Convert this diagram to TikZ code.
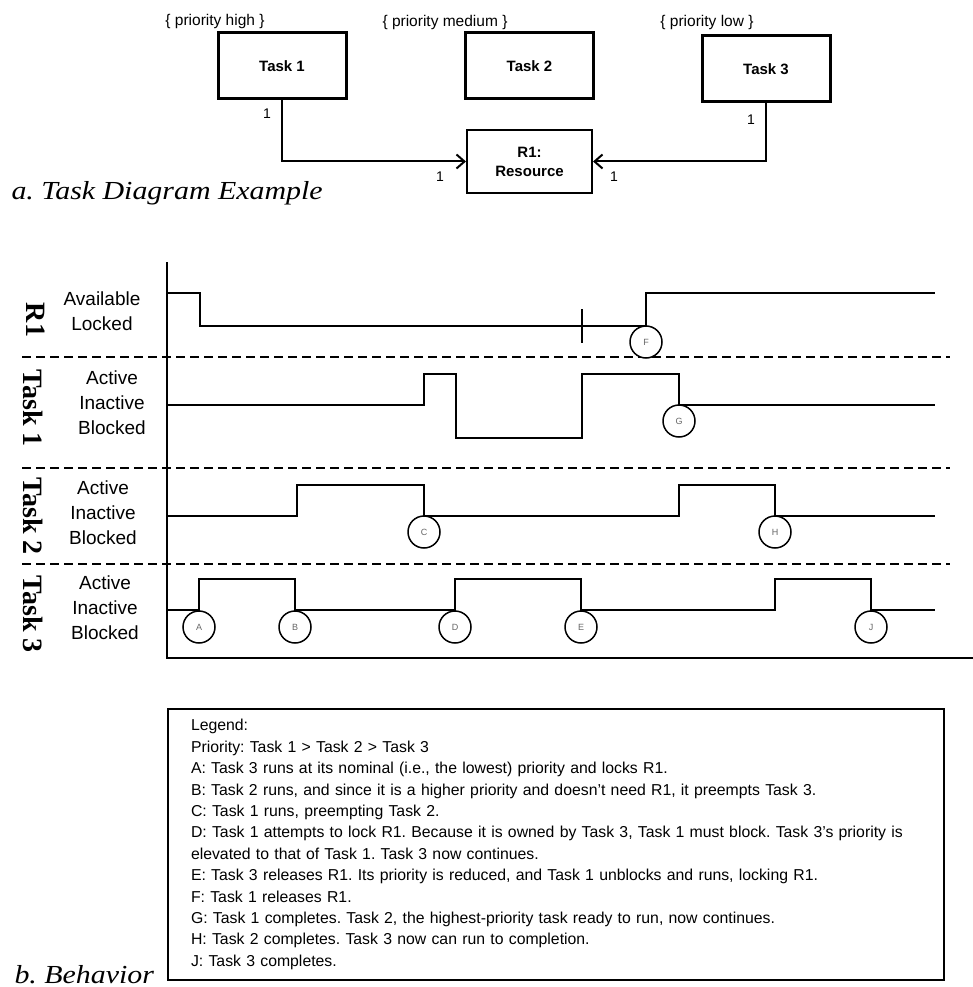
\documentclass[tikz,border=0pt]{standalone}
\usepackage{fontspec}
\setmainfont{Liberation Sans}
\newfontfamily\namefont{Liberation Serif}
\newfontfamily\capfont[FakeStretch=1.15]{Liberation Serif}
\usetikzlibrary{arrows.meta, positioning, calc}
\frenchspacing

\begin{document}
\begin{tikzpicture}[
  x=1pt, y=-1pt,
  >={Straight Barb[length=8pt,width=14pt]},
  taskbox/.style={rectangle, draw, line width=3pt, minimum width=128pt, minimum height=66pt, font=\fontsize{15}{18}\selectfont\bfseries},
  resbox/.style={rectangle, draw, line width=2pt, minimum width=125pt, minimum height=63pt, align=center, font=\fontsize{15}{19}\selectfont\bfseries},
  prio/.style={font=\fontsize{15.5}{17}\selectfont},
  mult/.style={font=\fontsize{14}{16}\selectfont},
  link/.style={line width=2pt, ->},
  caption/.style={anchor=base west, font=\capfont\itshape\fontsize{26}{28}\selectfont},
  rowname/.style={rotate=-90, font=\namefont\bfseries\fontsize{28}{30}\selectfont},
  states/.style={align=center, font=\fontsize{19}{25}\selectfont},
  wave/.style={line width=2pt},
  sep/.style={line width=2pt, dash pattern=on 9pt off 5pt},
  evt/.style={circle, draw, line width=1.5pt, fill=white, minimum size=32pt, inner sep=0pt, font=\fontsize{9}{9}\selectfont, text=black!60},
  legendbox/.style={rectangle, draw, line width=2pt, text width=730pt, inner xsep=23pt, minimum height=271pt, align=left, font=\fontsize{15.8}{21.4}\selectfont}
]
\useasboundingbox (0,0) rectangle (973,987);

% a. Task diagram
\node[taskbox] (task1) at (282,66) {Task 1};
\node[taskbox] (task2) at (529.5,66) {Task 2};
\node[taskbox] (task3) at (766,69) {Task 3};
\node[resbox] (res) at (529.5,161.5) {R1:\\Resource};

\node[prio] (prio1) at (215,21) {\{ priority high \}};
\node[prio] (prio2) at (445,22) {\{ priority medium \}};
\node[prio] (prio3) at (707,22) {\{ priority low \}};

\draw[link] (task1.south) |- (res.west);
\draw[link] (task3.south) |- (res.east);

\node[mult] (m1) at ($(task1.south)+(-15,13)$) {1};
\node[mult] (m2) at ($(res.west)+(-26,15)$) {1};
\node[mult] (m3) at ($(task3.south)+(-15,16)$) {1};
\node[mult] (m4) at ($(res.east)+(21,15)$) {1};

\node[caption] (capa) at (8,200) {a. Task Diagram Example};

% b. Behavior - axes and row separators
\draw[wave] (167,262) -- (167,658) -- (973,658);
\draw[sep] (22,357) -- (950,357);
\draw[sep] (22,468) -- (950,468);
\draw[sep] (22,564) -- (950,564);

% row names and states
\node[rowname] (nR1) at (36,320) {R1};
\node[rowname] (nT1) at (33,408) {Task 1};
\node[rowname] (nT2) at (33,516) {Task 2};
\node[rowname] (nT3) at (33,614) {Task 3};

\node[states] (sR1) at (102,311) {Available\\Locked};
\node[states] (sT1) at (112,403) {Active\\Inactive\\Blocked};
\node[states] (sT2) at (103,513) {Active\\Inactive\\Blocked};
\node[states] (sT3) at (105,608) {Active\\Inactive\\Blocked};

% waveforms
\draw[wave] (167,293) -- (200,293) -- (200,326) -- (646,326) -- (646,293) -- (935,293);
\draw[wave] (582,309) -- (582,343);
\draw[wave] (167,405) -- (424,405) -- (424,374) -- (456,374) -- (456,438) -- (582,438) -- (582,374) -- (679,374) -- (679,405) -- (935,405);
\draw[wave] (167,516) -- (297,516) -- (297,485) -- (424,485) -- (424,516) -- (679,516) -- (679,485) -- (775,485) -- (775,516) -- (935,516);
\draw[wave] (167,610) -- (199,610) -- (199,579) -- (295,579) -- (295,610) -- (455,610) -- (455,579) -- (581,579) -- (581,610) -- (775,610) -- (775,579) -- (871,579) -- (871,610) -- (935,610);

% events
\node[evt] (evF) at (646,342) {F};
\node[evt] (evG) at (679,421) {G};
\node[evt] (evC) at (424,532) {C};
\node[evt] (evH) at (775,532) {H};
\node[evt] (evA) at (199,627) {A};
\node[evt] (evB) at (295,627) {B};
\node[evt] (evD) at (455,627) {D};
\node[evt] (evE) at (581,627) {E};
\node[evt] (evJ) at (871,627) {J};

% legend
\node[legendbox, anchor=north west] (legend) at (167,708) {Legend:\\
Priority: Task 1 > Task 2 > Task 3\\
A: Task 3 runs at its nominal (i.e., the lowest) priority and locks R1.\\
B: Task 2 runs, and since it is a higher priority and doesn't need R1, it preempts Task 3.\\
C: Task 1 runs, preempting Task 2.\\
D: Task 1 attempts to lock R1. Because it is owned by Task 3, Task 1 must block. Task 3's priority is\\
elevated to that of Task 1. Task 3 now continues.\\
E: Task 3 releases R1. Its priority is reduced, and Task 1 unblocks and runs, locking R1.\\
F: Task 1 releases R1.\\
G: Task 1 completes. Task 2, the highest-priority task ready to run, now continues.\\
H: Task 2 completes. Task 3 now can run to completion.\\
J: Task 3 completes.};

\node[caption] (capb) at (11,983) {b. Behavior};

\end{tikzpicture}
\end{document}
